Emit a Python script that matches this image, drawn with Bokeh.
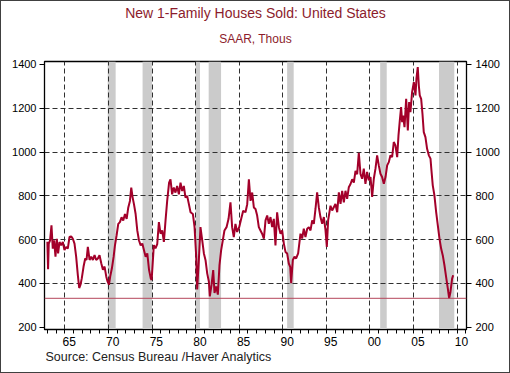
from bokeh.plotting import figure
from bokeh.models import LinearAxis, Range1d, FixedTicker, Span, Title
from bokeh.embed import file_html
from bokeh.resources import INLINE

# ---- data ----
years = [1963.00, 1963.08, 1963.16, 1963.31, 1963.47, 1963.62, 1963.77, 1963.93, 1964.08, 1964.23,
         1964.39, 1964.58, 1964.77, 1964.96, 1965.15, 1965.34, 1965.54, 1965.73, 1965.92, 1966.11,
         1966.30, 1966.49, 1966.65, 1966.80, 1966.95, 1967.15, 1967.34, 1967.49, 1967.64, 1967.84,
         1968.03, 1968.22, 1968.41, 1968.60, 1968.79, 1968.98, 1969.18, 1969.37, 1969.56, 1969.75,
         1969.90, 1970.06, 1970.21, 1970.40, 1970.60, 1970.75, 1970.94, 1971.13, 1971.32, 1971.51,
         1971.70, 1971.90, 1972.09, 1972.28, 1972.47, 1972.62, 1972.78, 1972.93, 1973.12, 1973.31,
         1973.50, 1973.70, 1973.89, 1974.08, 1974.27, 1974.46, 1974.66, 1974.85, 1974.96,
         1975.21, 1975.40, 1975.60, 1975.79, 1975.98, 1976.17, 1976.36, 1976.55, 1976.74, 1976.96,
         1977.12, 1977.31, 1977.50, 1977.69, 1977.88, 1978.08, 1978.27, 1978.46, 1978.65, 1978.84,
         1979.03, 1979.23, 1979.42, 1979.69, 1979.88, 1980.07, 1980.18, 1980.37, 1980.56, 1980.76,
         1980.95, 1981.14, 1981.33, 1981.52, 1981.63, 1981.83, 1982.02, 1982.17, 1982.36, 1982.55,
         1982.74, 1982.93, 1983.12, 1983.31, 1983.55, 1983.78, 1984.00, 1984.19, 1984.38, 1984.57,
         1984.76, 1985.00, 1985.23, 1985.46, 1985.72, 1985.92, 1986.11, 1986.30, 1986.49, 1986.68,
         1986.87, 1987.06, 1987.25, 1987.44, 1987.63, 1987.83, 1988.02, 1988.21, 1988.40, 1988.59,
         1988.78, 1988.97, 1989.16, 1989.35, 1989.55, 1989.74, 1989.93, 1990.12, 1990.31, 1990.50,
         1990.69, 1990.85, 1990.96, 1991.15, 1991.34, 1991.53, 1991.76, 1992.03, 1992.22, 1992.41,
         1992.60, 1992.80, 1992.99, 1993.18, 1993.37, 1993.56, 1993.75, 1993.94, 1994.13, 1994.32,
         1994.52, 1994.71, 1994.90, 1995.05, 1995.20, 1995.47, 1995.66, 1995.85, 1996.04, 1996.24,
         1996.43, 1996.62, 1996.81, 1997.00, 1997.19, 1997.38, 1997.57, 1997.77, 1997.96, 1998.15,
         1998.34, 1998.53, 1998.72, 1998.91, 1999.10, 1999.29, 1999.48, 1999.67, 1999.87, 2000.06,
         2000.25, 2000.44, 2000.63, 2000.82, 2001.01, 2001.20, 2001.39, 2001.59, 2001.78, 2001.97,
         2002.16, 2002.35, 2002.54, 2002.73, 2002.92, 2003.12, 2003.27, 2003.42, 2003.57, 2003.69,
         2003.80, 2003.96, 2004.15, 2004.34, 2004.49, 2004.64, 2004.83, 2005.03, 2005.22, 2005.33,
         2005.48, 2005.60, 2005.71, 2005.87, 2006.02, 2006.17, 2006.36, 2006.55, 2006.75, 2006.94,
         2007.05, 2007.20, 2007.39, 2007.59, 2007.78, 2007.97, 2008.16, 2008.35, 2008.54, 2008.73,
         2008.93, 2009.08, 2009.23, 2009.42, 2009.54]
sales = [590, 465, 582, 597, 665, 559, 597, 522, 604, 537,
         589, 574, 589, 552, 567, 559, 612, 615, 604, 582,
         522, 439, 379, 394, 424, 477, 514, 507, 567, 507,
         522, 507, 529, 507, 514, 529, 492, 462, 477, 432,
         409, 394, 432, 469, 522, 574, 620, 672, 680, 702,
         687, 717, 695, 747, 777, 838, 792, 762, 717, 642,
         597, 574, 582, 552, 522, 537, 462, 424, 416,
         575, 560, 580, 680, 627, 642, 590, 687, 777, 860,
         875, 807, 838, 815, 845, 807, 860, 822, 845, 792,
         800, 762, 725, 717, 657, 522, 372, 506, 657, 597,
         537, 506, 446, 409, 341, 394, 461, 356, 386, 349,
         484, 552, 597, 642, 657, 695, 770, 657, 612, 672,
         635, 657, 695, 732, 725, 762, 875, 777, 815, 747,
         740, 710, 657, 642, 627, 605, 688, 710, 672, 703,
         657, 695, 574, 725, 657, 627, 642, 582, 544, 537,
         491, 476, 401, 507, 522, 514, 537, 627, 605, 650,
         612, 650, 657, 642, 688, 672, 740, 816, 748, 703,
         672, 703, 642, 567, 688, 755, 733, 748, 763, 725,
         816, 763, 823, 770, 823, 786, 839, 854, 876, 861,
         914, 899, 997, 900, 878, 924, 855, 909, 871, 886,
         795, 878, 924, 985, 939, 901, 886, 855, 886, 939,
         954, 985, 977, 1046, 1030, 977, 1076, 1144, 1205, 1137,
         1167, 1114, 1243, 1099, 1228, 1182, 1274, 1319, 1259, 1335,
         1388, 1304, 1259, 1243, 1175, 1091, 1068, 1015, 985, 970,
         916, 848, 802, 726, 665, 605, 559, 528, 483, 430,
         376, 332, 361, 422, 437]

rec_start = [1969.92, 1973.92, 1980.00, 1981.50, 1990.50, 2001.17, 2007.92]
rec_end = [1970.83, 1975.00, 1980.50, 1982.92, 1991.25, 2001.92, 2009.67]

y_ticks = [200, 400, 600, 800, 1000, 1200, 1400]
x_grid_years = [1965, 1970, 1975, 1980, 1985, 1990, 1995, 2000, 2005, 2010]
x_labels = ["65", "70", "75", "80", "85", "90", "95", "00", "05", "10"]

title_text = "New 1-Family Houses Sold: United States"
subtitle_text = "SAAR, Thous"
source_text = "Source:  Census Bureau /Haver Analytics"

# ---- layout ----
x0, x1 = 1962.67, 2011.07
y0, y1 = 189.5, 1413.7
FW, FH = 422, 268

FONT = "Liberation Sans"
RED = "#A3002A"
TITLE_RED = "#8C1C2C"

p = figure(frame_width=FW, frame_height=FH,
           min_border_left=43, min_border_right=43, min_border_top=60, min_border_bottom=43,
           x_range=Range1d(x0, x1), y_range=Range1d(y0, y1),
           output_backend="svg", toolbar_location=None,
           background_fill_color="white", border_fill_color="white",
           styles={"border": "1px solid #404040"})

xa = p.xaxis[0]
ya = p.yaxis[0]

p.outline_line_color = "black"
p.outline_line_width = 1.3

# titles (first added = nearest the frame)
p.add_layout(Title(text=subtitle_text, align="center", text_font=FONT,
                   text_font_size="12px", text_font_style="normal",
                   text_color=TITLE_RED, standoff=32), "above")
p.add_layout(Title(text=title_text, align="center", text_font=FONT,
                   text_font_size="14px", text_font_style="normal",
                   text_color=TITLE_RED, standoff=-14.5), "above")
p.add_layout(Title(text=source_text, align="left", text_font=FONT,
                   text_font_size="12.5px", text_font_style="normal",
                   text_color="#222222", standoff=-2, offset=1), "below")

# recession shading (below grid)
p.quad(left=rec_start, right=rec_end, bottom=y0, top=y1,
       fill_color="#CBCBCB", line_color=None, level="image")

# grids
p.xgrid.ticker = FixedTicker(ticks=x_grid_years)
p.ygrid.ticker = FixedTicker(ticks=y_ticks[1:-1])
for g in (p.xgrid, p.ygrid):
    g.grid_line_color = "#303030"
    g.grid_line_dash = "5 3"
    g.grid_line_width = 1

# trough line
p.add_layout(Span(location=min(sales), dimension="width",
                  line_color="#B5455A", line_width=1))

# main series
p.line(years, sales, line_color=RED, line_width=2)

# y axes
def style_y(ax, standoff):
    ax.ticker = FixedTicker(ticks=y_ticks)
    ax.axis_line_color = "black"
    ax.major_tick_line_color = "black"
    ax.major_tick_out = 5
    ax.major_tick_in = 0
    ax.minor_tick_line_color = None
    ax.major_label_text_font = FONT
    ax.major_label_text_font_size = "11px"
    ax.major_label_text_color = "black"
    ax.major_label_standoff = standoff

style_y(ya, 3)
right_ax = LinearAxis()
style_y(right_ax, 4)
p.add_layout(right_ax, "right")

# x axis: labels centred mid-year, tick marks every year
mids = [y + 0.5 for y in x_grid_years]
xa.ticker = FixedTicker(ticks=mids, minor_ticks=list(range(1963, 2012)))
xa.major_label_overrides = {m: lab for m, lab in zip(mids, x_labels)}
xa.major_tick_line_color = None
xa.major_tick_out = 4
xa.minor_tick_line_color = "black"
xa.minor_tick_out = 4
xa.minor_tick_in = 0
xa.axis_line_color = "black"
xa.major_label_text_font = FONT
xa.major_label_text_font_size = "12px"
xa.major_label_text_color = "black"
xa.major_label_standoff = 3

open("out.html", "w").write(file_html(p, INLINE))
